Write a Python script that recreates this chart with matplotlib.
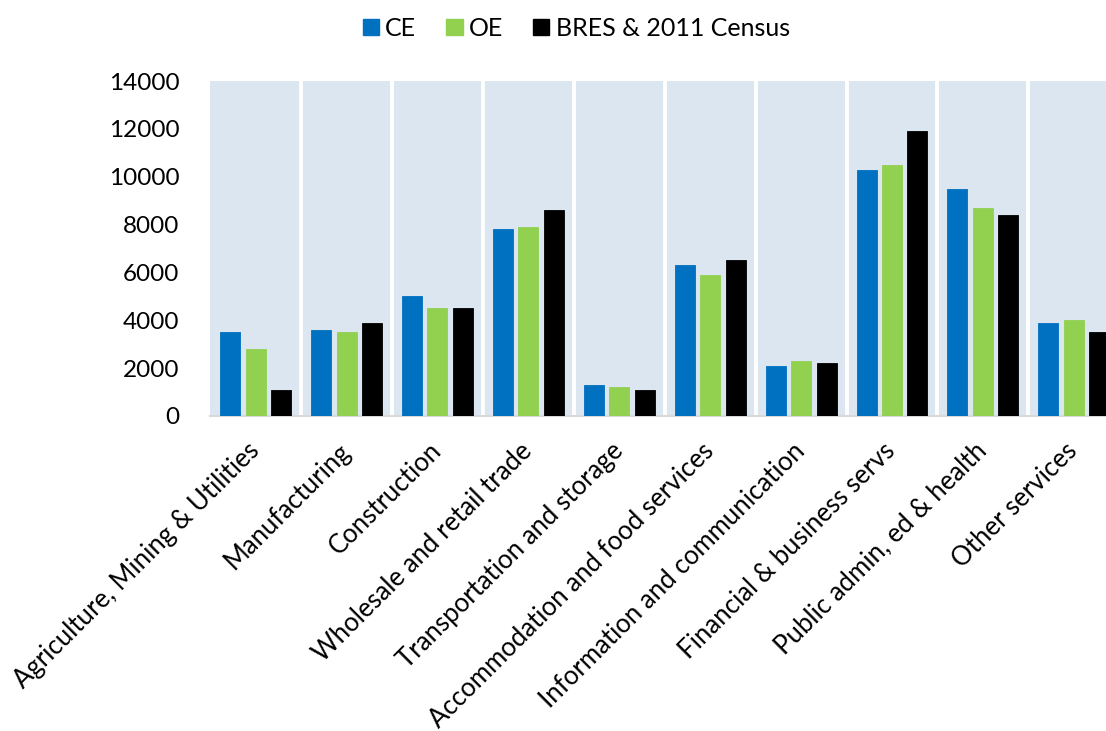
import matplotlib.pyplot as plt
import numpy as np
from matplotlib.patches import Patch

plt.rcParams['font.family'] = ['Lato', 'DejaVu Sans']

# -------------------------
# Data
# -------------------------
sectors = [
    "Agriculture, Mining & Utilities",
    "Manufacturing",
    "Construction",
    "Wholesale and retail trade",
    "Transportation and storage",
    "Accommodation and food services",
    "Information and communication",
    "Financial & business servs",
    "Public admin, ed & health",
    "Other services",
]
ce = [3500, 3600, 5000, 7800, 1300, 6300, 2100, 10300, 9500, 3900]
oe = [2800, 3500, 4500, 7900, 1200, 5900, 2300, 10500, 8700, 4000]
bres = [1100, 3900, 4500, 8600, 1100, 6500, 2200, 11900, 8400, 3500]

series_names = ["CE", "OE", "BRES & 2011 Census"]
colors = ["#0070C0", "#92D050", "#000000"]

# -------------------------
# Figure
# -------------------------
fig = plt.figure(figsize=(11.06, 7.31), dpi=100)
ax = fig.add_axes([0.19, 0.431, 0.822, 0.458])
ax.set_facecolor("#DCE6F1")

x = np.arange(len(sectors))
width = 0.22
step = 0.28
for k, (vals, col) in enumerate(zip([ce, oe, bres], colors)):
    ax.bar(x + (k - 1) * step, vals, width=width, color=col,
           edgecolor=col, linewidth=0.6, zorder=3)

# white separators between category bands
for b in x[:-1] + 0.5:
    ax.axvline(b, color="white", linewidth=2.8, zorder=2)

ax.set_xlim(-0.5, len(sectors) - 0.5)
ax.set_ylim(0, 14000)
ax.set_yticks(range(0, 14001, 2000))
ax.tick_params(axis="y", length=0, labelsize=17.5, pad=22)
ax.tick_params(axis="x", length=0, labelsize=18.5, pad=16)

ax.set_xticks(x - 0.1)
ax.set_xticklabels(sectors, rotation=45, ha="right", rotation_mode="anchor")

for side in ["top", "right", "left"]:
    ax.spines[side].set_visible(False)
ax.spines["bottom"].set_color("#D9D9D9")
ax.spines["bottom"].set_linewidth(1.5)

handles = [Patch(facecolor=c, edgecolor=c) for c in colors]
fig.legend(handles, series_names, loc="upper center",
           bbox_to_anchor=(0.521, 1.008), ncol=3, frameon=False,
           fontsize=18, handlelength=0.65, handleheight=0.65,
           handletextpad=0.25, columnspacing=1.2)

fig.savefig("out.png", dpi=100)
